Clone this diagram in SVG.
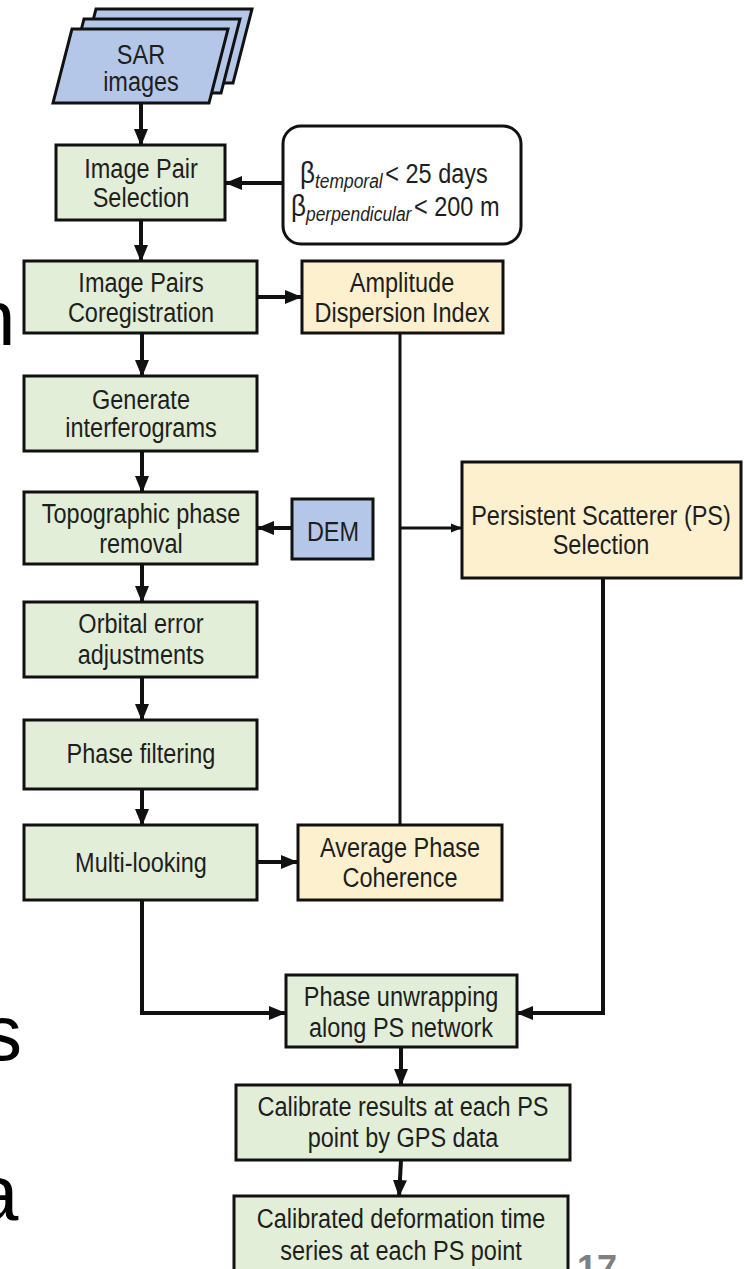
<svg xmlns="http://www.w3.org/2000/svg" width="744" height="1269" viewBox="0 0 744 1269">
<defs>
<style>
.box{stroke:#111;stroke-width:3}
.g{fill:#e2eed8}
.y{fill:#fdf0cf}
.b{fill:#b5c7e8}
.t{font-family:"Liberation Sans",Arial,sans-serif;font-size:27px;fill:#1e1e1e;text-anchor:middle}
.s{font-family:"Liberation Sans",Arial,sans-serif;fill:#1e1e1e}
.c{stroke:#111;stroke-width:4;fill:none}
.thin{stroke:#111;stroke-width:3;fill:none}
.big{font-family:"Liberation Sans",Arial,sans-serif;font-size:78px;fill:#000}
</style>
<marker id="ah" markerUnits="userSpaceOnUse" markerWidth="18" markerHeight="18" viewBox="0 0 18 18" refX="17" refY="9" orient="auto">
<path d="M0,2 L17,9 L0,16 Z" fill="#111"/>
</marker>
<marker id="ahs" markerUnits="userSpaceOnUse" markerWidth="12" markerHeight="12" viewBox="0 0 12 12" refX="11" refY="6" orient="auto">
<path d="M0,1.5 L11,6 L0,10.5 Z" fill="#111"/>
</marker>
</defs>
<rect width="744" height="1269" fill="#ffffff"/>

<text class="big" x="-28" y="345">n</text>
<text class="big" x="-17" y="1060">s</text>
<text class="big" x="-25" y="1220">a</text>

<g id="connectors">
<line class="c" x1="141" y1="103" x2="141" y2="146" marker-end="url(#ah)"/>
<line class="c" x1="283" y1="183" x2="225" y2="183" marker-end="url(#ah)"/>
<line class="c" x1="141" y1="220" x2="141" y2="262" marker-end="url(#ah)"/>
<line class="c" x1="257" y1="297" x2="302" y2="297" stroke-width="6" marker-end="url(#ah)"/>
<line class="c" x1="142" y1="333" x2="142" y2="377" marker-end="url(#ah)"/>
<line class="c" x1="142" y1="451" x2="142" y2="493" marker-end="url(#ah)"/>
<line class="c" x1="292" y1="528" x2="257" y2="528" marker-end="url(#ah)"/>
<line class="thin" x1="400" y1="333" x2="400" y2="825"/>
<line class="thin" x1="400" y1="528" x2="462" y2="528" marker-end="url(#ahs)"/>
<line class="c" x1="142" y1="564" x2="142" y2="603" marker-end="url(#ah)"/>
<line class="c" x1="142" y1="677" x2="142" y2="721" marker-end="url(#ah)"/>
<line class="c" x1="142" y1="789" x2="142" y2="826" marker-end="url(#ah)"/>
<line class="c" x1="257" y1="862" x2="298" y2="862" stroke-width="6" marker-end="url(#ah)"/>
<polyline class="c" points="142,900 142,1013 286,1013" marker-end="url(#ah)"/>
<polyline class="c" points="603,578 603,1013 516,1013" marker-end="url(#ah)"/>
<line class="c" x1="401" y1="1047" x2="401" y2="1086" marker-end="url(#ah)"/>
<line class="c" x1="401" y1="1160" x2="399" y2="1197" marker-end="url(#ah)"/>
</g>

<g id="sar">
<polygon class="box b" points="96,9 252,9 233,83 77,83" stroke-width="2.5"/>
<polygon class="box b" points="84,19 240,19 221,93 65,93" stroke-width="2.5"/>
<polygon class="box b" points="72,29 228,29 209,103 53,103" stroke-width="2.5"/>
<text class="t" transform="matrix(0.87 0 0 1 141 0)" x="0" y="64">SAR</text>
<text class="t" transform="matrix(0.87 0 0 1 141 0)" x="0" y="91">images</text>
</g>

<g id="imgpair">
<rect class="box g" x="56" y="145" width="169" height="75"/>
<text class="t" transform="matrix(0.87 0 0 1 141 0)" x="0" y="178">Image Pair</text>
<text class="t" transform="matrix(0.87 0 0 1 141 0)" x="0" y="207">Selection</text>
</g>

<g id="baseline">
<rect x="283" y="126" width="238" height="118" rx="18" fill="#fff" stroke="#111" stroke-width="3"/>
<text class="s" transform="matrix(0.87 0 0 1 300 183)" x="0" y="0"><tspan font-size="30">β</tspan><tspan font-size="20" font-style="italic" dy="5">temporal</tspan><tspan font-size="27" dy="-5" dx="3">&lt; 25 days</tspan></text>
<text class="s" transform="matrix(0.87 0 0 1 291 216)" x="0" y="0"><tspan font-size="30">β</tspan><tspan font-size="20" font-style="italic" dy="5">perpendicular</tspan><tspan font-size="27" dy="-5" dx="3">&lt; 200 m</tspan></text>
</g>

<g id="coreg">
<rect class="box g" x="24" y="261" width="233" height="72"/>
<text class="t" transform="matrix(0.87 0 0 1 141 0)" x="0" y="292">Image Pairs</text>
<text class="t" transform="matrix(0.87 0 0 1 141 0)" x="0" y="322">Coregistration</text>
</g>

<g id="amplitude">
<rect class="box y" x="302" y="261" width="201" height="72"/>
<text class="t" transform="matrix(0.87 0 0 1 402 0)" x="0" y="292">Amplitude</text>
<text class="t" transform="matrix(0.87 0 0 1 402 0)" x="0" y="322">Dispersion Index</text>
</g>

<g id="generate">
<rect class="box g" x="24" y="376" width="233" height="75"/>
<text class="t" transform="matrix(0.87 0 0 1 141 0)" x="0" y="409">Generate</text>
<text class="t" transform="matrix(0.87 0 0 1 141 0)" x="0" y="437">interferograms</text>
</g>

<g id="topo">
<rect class="box g" x="24" y="492" width="233" height="72"/>
<text class="t" transform="matrix(0.87 0 0 1 141 0)" x="0" y="523">Topographic phase</text>
<text class="t" transform="matrix(0.87 0 0 1 141 0)" x="0" y="553">removal</text>
</g>

<g id="dem">
<rect class="box b" x="292" y="499" width="81" height="60"/>
<text class="t" transform="matrix(0.87 0 0 1 333 0)" x="0" y="541">DEM</text>
</g>

<g id="ps">
<rect class="box y" x="462" y="462" width="279" height="116"/>
<text class="t" transform="matrix(0.87 0 0 1 601 0)" x="0" y="525">Persistent Scatterer (PS)</text>
<text class="t" transform="matrix(0.87 0 0 1 601 0)" x="0" y="554">Selection</text>
</g>

<g id="orbital">
<rect class="box g" x="24" y="602" width="233" height="75"/>
<text class="t" transform="matrix(0.87 0 0 1 141 0)" x="0" y="633">Orbital error</text>
<text class="t" transform="matrix(0.87 0 0 1 141 0)" x="0" y="664">adjustments</text>
</g>

<g id="filter">
<rect class="box g" x="24" y="720" width="233" height="69"/>
<text class="t" transform="matrix(0.87 0 0 1 141 0)" x="0" y="763">Phase filtering</text>
</g>

<g id="multilook">
<rect class="box g" x="24" y="825" width="233" height="75"/>
<text class="t" transform="matrix(0.87 0 0 1 141 0)" x="0" y="872">Multi-looking</text>
</g>

<g id="avgphase">
<rect class="box y" x="298" y="825" width="204" height="75"/>
<text class="t" transform="matrix(0.87 0 0 1 400 0)" x="0" y="857">Average Phase</text>
<text class="t" transform="matrix(0.87 0 0 1 400 0)" x="0" y="887">Coherence</text>
</g>

<g id="unwrap">
<rect class="box g" x="286" y="975" width="231" height="72"/>
<text class="t" transform="matrix(0.87 0 0 1 401 0)" x="0" y="1006">Phase unwrapping</text>
<text class="t" transform="matrix(0.87 0 0 1 401 0)" x="0" y="1037">along PS network</text>
</g>

<g id="calibrate">
<rect class="box g" x="236" y="1085" width="334" height="75"/>
<text class="t" transform="matrix(0.87 0 0 1 403 0)" x="0" y="1116">Calibrate results at each PS</text>
<text class="t" transform="matrix(0.87 0 0 1 403 0)" x="0" y="1147">point by GPS data</text>
</g>

<g id="deform">
<rect class="box g" x="234" y="1196" width="334" height="80"/>
<text class="t" transform="matrix(0.87 0 0 1 401 0)" x="0" y="1228">Calibrated deformation time</text>
<text class="t" transform="matrix(0.87 0 0 1 401 0)" x="0" y="1260">series at each PS point</text>
</g>

<text x="577" y="1281" font-family="Liberation Sans,Arial,sans-serif" font-size="36" font-weight="bold" fill="#808080">17</text>
</svg>
